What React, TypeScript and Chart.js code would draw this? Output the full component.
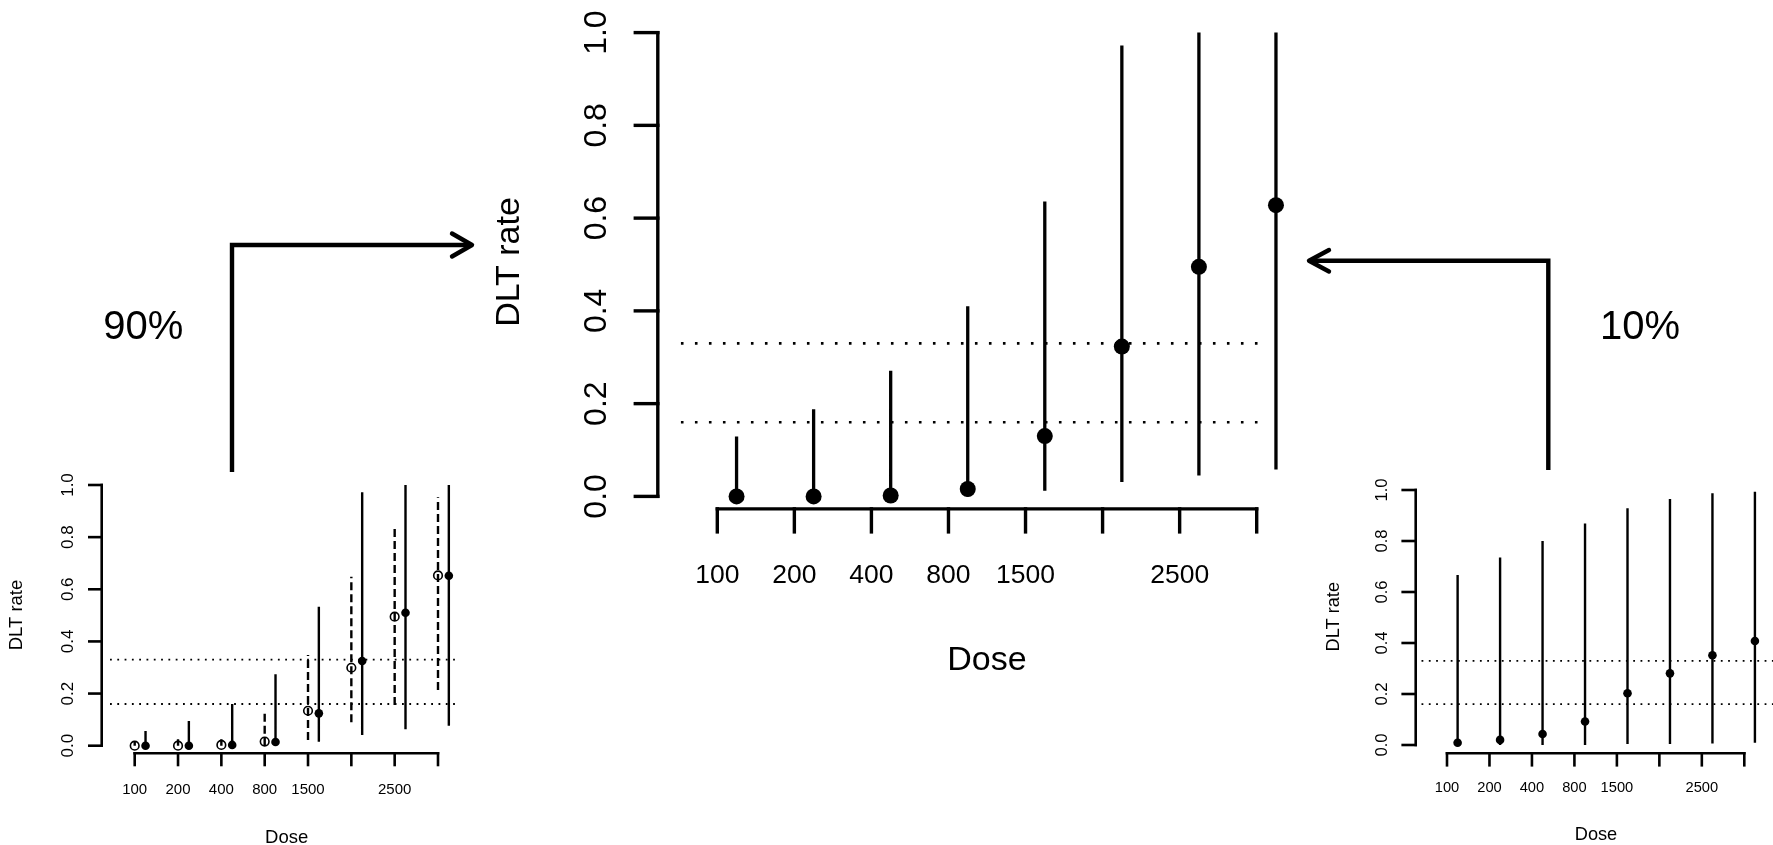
import { useEffect, useRef } from "react";
import { Chart, registerables } from "chart.js";

Chart.register(...registerables);

const W = 1773;
const H = 845;
const FONT = '"Liberation Sans", Arial, "DejaVu Sans", sans-serif';

// ---- data ----
const DOSE_LEVELS = [1, 2, 3, 4, 5, 6, 7, 8];
const DOSE_LABELS = ["100", "200", "400", "800", "1500", "", "2500", ""];
const Y_TICKS = [0, 0.2, 0.4, 0.6, 0.8, 1.0];
const Y_TICK_LABELS = ["0.0", "0.2", "0.4", "0.6", "0.8", "1.0"];
const THRESHOLDS = [0.16, 0.33];
const POST_SHIFT = 0.25;

// main (middle) panel: posterior estimate and interval
const MAIN_EST = [0.0, 0.0, 0.002, 0.016, 0.13, 0.323, 0.495, 0.628];
const MAIN_LO = [0.0, 0.0, 0.0, 0.0, 0.012, 0.031, 0.045, 0.058];
const MAIN_HI = [0.129, 0.188, 0.271, 0.41, 0.636, 0.972, 1.0, 1.0];
const MAIN_REF_RANGE = [0.528, 8.124];

// left panel (90%): prior (open, dashed) and posterior (filled, solid)
const LEFT_PRIOR_EST = [0.0, 0.0, 0.003, 0.016, 0.134, 0.299, 0.495, 0.653];
const LEFT_PRIOR_LO = [0.0, 0.0, 0.0, 0.0, 0.022, 0.09, 0.156, 0.214];
const LEFT_PRIOR_HI = [0.015, 0.025, 0.025, 0.124, 0.348, 0.648, 0.844, 0.953];
const LEFT_POST_EST = [0.0, 0.0, 0.003, 0.014, 0.124, 0.325, 0.51, 0.652];
const LEFT_POST_LO = [0.0, 0.0, 0.0, 0.0, 0.015, 0.041, 0.063, 0.077];
const LEFT_POST_HI = [0.056, 0.095, 0.16, 0.274, 0.533, 0.972, 1.0, 1.0];
const LEFT_REF_RANGE = [0.43, 8.46];

// right panel (10%)
const RIGHT_EST = [0.009, 0.02, 0.043, 0.092, 0.203, 0.281, 0.352, 0.408];
const RIGHT_LO = [0.0, 0.0, 0.0, 0.0, 0.004, 0.004, 0.006, 0.009];
const RIGHT_HI = [0.667, 0.735, 0.8, 0.869, 0.928, 0.965, 0.987, 0.993];
const RIGHT_REF_RANGE = [0.4, 8.68];

const LEFT_PCT = "90%";
const RIGHT_PCT = "10%";
const Y_TITLE = "DLT rate";
const X_TITLE = "Dose";

// ---- layout (pixels) ----
type Panel = {
  key: string;
  xA: number; xB: number; y0: number; y1: number;
  axisX: number; axisY: number; yTickLen: number; xTickLen: number;
  yLabX: number; xLabY: number; yTitle: [number, number]; xTitle: [number, number];
  yTickFont: number; xTickFont: number; titleFont: number;
  axisW: number; barW: number; pointR: number; refW: number; refDash: number[];
};

const PANELS: Panel[] = [
  {
    key: "Main", xA: 717.3, xB: 1256.7, y0: 496.4, y1: 32.6,
    axisX: 657.8, axisY: 508.9, yTickLen: 22.5, xTickLen: 23,
    yLabX: 597, xLabY: 576, yTitle: [509.5, 262], xTitle: [987, 661],
    yTickFont: 32, xTickFont: 26.5, titleFont: 34,
    axisW: 3.4, barW: 3.3, pointR: 8, refW: 2.6, refDash: [2.6, 11.4],
  },
  {
    key: "Left", xA: 134.7, xB: 438, y0: 745.7, y1: 485,
    axisX: 101.7, axisY: 753.3, yTickLen: 12.4, xTickLen: 11.7,
    yLabX: 68, xLabY: 790, yTitle: [17.3, 615], xTitle: [286.7, 838.3],
    yTickFont: 17, xTickFont: 15, titleFont: 18.5,
    axisW: 2.6, barW: 2.4, pointR: 4.3, refW: 1.8, refDash: [1.8, 5.5],
  },
  {
    key: "Right", xA: 1447, xB: 1744.3, y0: 745, y1: 490,
    axisX: 1415.7, axisY: 753.3, yTickLen: 13, xTickLen: 12,
    yLabX: 1382.7, xLabY: 788.3, yTitle: [1334, 616.7], xTitle: [1596, 835],
    yTickFont: 16.7, xTickFont: 14.7, titleFont: 18.2,
    axisW: 2.6, barW: 2.4, pointR: 4.3, refW: 1.8, refDash: [1.8, 5.5],
  },
];

function xRange(p: Panel) {
  const k = (p.xB - p.xA) / (DOSE_LEVELS.length - 1);
  const min = DOSE_LEVELS[0] - p.xA / k;
  return { min, max: min + W / k };
}
function yRange(p: Panel) {
  const k = p.y0 - p.y1;
  const min = (p.y0 - H) / k;
  return { min, max: min + H / k };
}

function barPoints(xs: number[], lo: number[], hi: number[]) {
  const pts: { x: number; y: number | null }[] = [];
  xs.forEach((x, i) => {
    pts.push({ x, y: lo[i] }, { x, y: hi[i] }, { x, y: null });
  });
  return pts;
}
function estPoints(xs: number[], est: number[]) {
  return xs.map((x, i) => ({ x, y: est[i] }));
}

const postX = DOSE_LEVELS.map((d) => d + POST_SHIFT);
const priorX = DOSE_LEVELS.slice();

function refDatasets(p: Panel, range: number[]) {
  return THRESHOLDS.map((t) => ({
    type: "line" as const,
    data: [{ x: range[0], y: t }, { x: range[1], y: t }],
    xAxisID: "x" + p.key, yAxisID: "y" + p.key,
    borderColor: "#000", borderWidth: p.refW, borderDash: p.refDash,
    borderCapStyle: "butt" as const, pointRadius: 0, fill: false, order: 3,
  }));
}
function barDataset(p: Panel, xs: number[], lo: number[], hi: number[], dash: number[] = []) {
  return {
    type: "line" as const,
    data: barPoints(xs, lo, hi),
    xAxisID: "x" + p.key, yAxisID: "y" + p.key,
    borderColor: "#000", borderWidth: p.barW, borderDash: dash,
    borderCapStyle: "butt" as const, pointRadius: 0, fill: false, spanGaps: false, order: 2,
  };
}
function pointDataset(p: Panel, xs: number[], est: number[], open = false) {
  return {
    type: "scatter" as const,
    data: estPoints(xs, est),
    xAxisID: "x" + p.key, yAxisID: "y" + p.key,
    pointRadius: p.pointR, pointHoverRadius: p.pointR,
    backgroundColor: open ? "rgba(0,0,0,0)" : "#000",
    borderColor: "#000", borderWidth: open ? 1.6 : 0,
    showLine: false, order: 1,
  };
}

function line(ctx: CanvasRenderingContext2D, x1: number, y1: number, x2: number, y2: number) {
  ctx.beginPath();
  ctx.moveTo(x1, y1);
  ctx.lineTo(x2, y2);
  ctx.stroke();
}
function text(ctx: CanvasRenderingContext2D, s: string, x: number, y: number, size: number, rotated = false) {
  ctx.save();
  ctx.font = `${size}px ${FONT}`;
  ctx.fillStyle = "#000";
  ctx.textAlign = "center";
  ctx.textBaseline = "middle";
  ctx.translate(x, y);
  if (rotated) ctx.rotate(-Math.PI / 2);
  ctx.fillText(s, 0, 0);
  ctx.restore();
}

function drawAxes(chart: any, p: Panel) {
  const ctx: CanvasRenderingContext2D = chart.ctx;
  const xs = chart.scales["x" + p.key];
  const ys = chart.scales["y" + p.key];
  ctx.save();
  ctx.strokeStyle = "#000";
  ctx.lineWidth = p.axisW;
  ctx.lineCap = "square";
  // y axis
  const yb = ys.getPixelForValue(Y_TICKS[0]);
  const yt = ys.getPixelForValue(Y_TICKS[Y_TICKS.length - 1]);
  line(ctx, p.axisX, yb, p.axisX, yt);
  Y_TICKS.forEach((v) => {
    const py = ys.getPixelForValue(v);
    line(ctx, p.axisX - p.yTickLen, py, p.axisX, py);
  });
  // x axis
  const xl = xs.getPixelForValue(DOSE_LEVELS[0]);
  const xr = xs.getPixelForValue(DOSE_LEVELS[DOSE_LEVELS.length - 1]);
  line(ctx, xl, p.axisY, xr, p.axisY);
  DOSE_LEVELS.forEach((d) => {
    const px = xs.getPixelForValue(d);
    line(ctx, px, p.axisY, px, p.axisY + p.xTickLen);
  });
  ctx.restore();
  Y_TICKS.forEach((v, i) => text(ctx, Y_TICK_LABELS[i], p.yLabX, ys.getPixelForValue(v), p.yTickFont, true));
  DOSE_LEVELS.forEach((d, i) => {
    if (DOSE_LABELS[i]) text(ctx, DOSE_LABELS[i], xs.getPixelForValue(d), p.xLabY, p.xTickFont);
  });
  text(ctx, Y_TITLE, p.yTitle[0], p.yTitle[1], p.titleFont, true);
  text(ctx, X_TITLE, p.xTitle[0], p.xTitle[1], p.titleFont);
}

function drawArrow(ctx: CanvasRenderingContext2D, shaft: number[][], head: number[][]) {
  ctx.save();
  ctx.strokeStyle = "#000";
  ctx.lineWidth = 4.4;
  ctx.lineJoin = "miter";
  ctx.lineCap = "butt";
  ctx.beginPath();
  shaft.forEach(([x, y], i) => (i ? ctx.lineTo(x, y) : ctx.moveTo(x, y)));
  ctx.stroke();
  ctx.lineJoin = "round";
  ctx.lineCap = "round";
  ctx.beginPath();
  head.forEach(([x, y], i) => (i ? ctx.lineTo(x, y) : ctx.moveTo(x, y)));
  ctx.stroke();
  ctx.restore();
}

const overlayPlugin = {
  id: "overlay",
  afterDraw(chart: any) {
    const ctx: CanvasRenderingContext2D = chart.ctx;
    PANELS.forEach((p) => drawAxes(chart, p));
    drawArrow(ctx, [[232, 472], [232, 245], [471, 245]], [[452, 233.5], [472, 245], [452, 256.5]]);
    drawArrow(ctx, [[1548.3, 470], [1548.3, 260.7], [1310, 260.7]], [[1329, 250], [1309, 260.7], [1329, 271.5]]);
    text(ctx, LEFT_PCT, 143.3, 328, 40);
    text(ctx, RIGHT_PCT, 1640, 328.3, 40);
  },
};

export default function App() {
  const ref = useRef<HTMLCanvasElement | null>(null);
  useEffect(() => {
    if (!ref.current) return;
    const [main, left, right] = PANELS;
    const scales: any = {};
    PANELS.forEach((p) => {
      scales["x" + p.key] = { type: "linear", axis: "x", display: false, bounds: "data", ...xRange(p) };
      scales["y" + p.key] = { type: "linear", axis: "y", display: false, bounds: "data", ...yRange(p) };
    });
    const datasets: any[] = [
      pointDataset(main, postX, MAIN_EST),
      barDataset(main, postX, MAIN_LO, MAIN_HI),
      ...refDatasets(main, MAIN_REF_RANGE),
      pointDataset(left, priorX, LEFT_PRIOR_EST, true),
      pointDataset(left, postX, LEFT_POST_EST),
      barDataset(left, priorX, LEFT_PRIOR_LO, LEFT_PRIOR_HI, [8, 4]),
      barDataset(left, postX, LEFT_POST_LO, LEFT_POST_HI),
      ...refDatasets(left, LEFT_REF_RANGE),
      pointDataset(right, postX, RIGHT_EST),
      barDataset(right, postX, RIGHT_LO, RIGHT_HI),
      ...refDatasets(right, RIGHT_REF_RANGE),
    ];
    const chart = new Chart(ref.current, {
      type: "scatter",
      data: { datasets },
      options: {
        responsive: false,
        maintainAspectRatio: false,
        devicePixelRatio: 1,
        animation: false,
        events: [],
        layout: { padding: 0, autoPadding: false },
        plugins: { legend: { display: false }, tooltip: { enabled: false }, title: { display: false } },
        scales,
      } as any,
      plugins: [overlayPlugin],
    });
    return () => chart.destroy();
  }, []);
  return (
    <div style={{ position: "fixed", left: 0, top: 0, width: W, height: H, background: "#fff" }}>
      <canvas ref={ref} width={W} height={H} style={{ display: "block", width: W, height: H }} />
    </div>
  );
}
